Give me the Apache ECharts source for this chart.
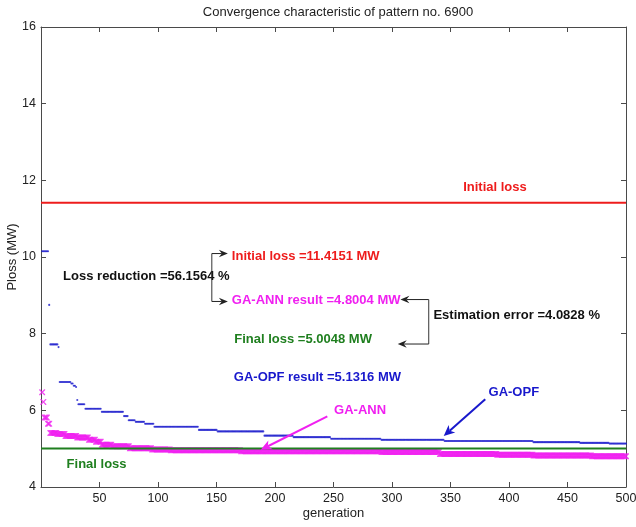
<!DOCTYPE html>
<html><head><meta charset="utf-8">
<script src="https://cdn.jsdelivr.net/npm/echarts@6/dist/echarts.min.js"></script>
<style>html,body{margin:0;padding:0;background:#fff}#c{width:636px;height:527px}</style>
</head><body><div id="c"></div>
<script>
// ---------- data ----------
const generationCount = 500;
const xTickLabels = [50, 100, 150, 200, 250, 300, 350, 400, 450, 500];
const yTickLabels = [4, 6, 8, 10, 12, 14, 16];
const initialLoss = 11.4151;
const finalLoss = 5.0048;
const gaAnnResult = 4.8004;
const gaOpfResult = 5.1316;
const lossReduction = 56.1564;
const estimationError = 4.0828;
// piecewise-constant readings: [first generation, Ploss (MW)]
const gaOpfSteps = [[1,10.15],[7,8.75],[8,7.72],[15,7.65],[16,6.74],[26,6.70],[28,6.64],[30,6.61],[31,6.27],[32,6.16],[38,6.04],[52,5.96],[71,5.85],[75,5.74],[81,5.70],[89,5.65],[97,5.57],[135,5.49],[151,5.45],[191,5.34],[216,5.30],[248,5.26],[291,5.23],[345,5.20],[421,5.17],[461,5.15],[486,gaOpfResult]];
const gaAnnSteps = [[1,6.47],[2,6.22],[3,5.81],[6,5.65],[8,5.41],[14,5.38],[21,5.33],[31,5.29],[41,5.23],[47,5.18],[52,5.10],[61,5.06],[76,5.01],[95,4.98],[111,4.96],[171,4.93],[291,4.91],[341,4.86],[390,4.84],[421,4.82],[471,gaAnnResult]];

function expandSteps(steps) {
  const out = [];
  for (let i = 0; i < steps.length; i++) {
    const start = steps[i][0];
    const end = i + 1 < steps.length ? steps[i + 1][0] - 1 : generationCount;
    for (let g = start; g <= end; g++) out.push([g, steps[i][1]]);
  }
  return out;
}
const gaOpfData = expandSteps(gaOpfSteps);
const gaAnnData = expandSteps(gaAnnSteps);

// ---------- styles ----------
const RED = '#ee1c1c', GREEN = '#1f7f1f', MAG = '#f020f0', BLUE = '#1818cc', AX = '#4a4a4a';
const FONT = 'Liberation Sans, Arial, sans-serif';
const crossPath = 'path://M0,0L1.6,0L5,3.4L8.4,0L10,0L10,1.6L6.6,5L10,8.4L10,10L8.4,10L5,6.6L1.6,10L0,10L0,8.4L3.4,5L0,1.6Z';

const chart = echarts.init(document.getElementById('c'), null, {renderer: 'canvas'});
const axisCommon = {
  splitLine: {show: false},
  axisLine: {show: true, onZero: false, lineStyle: {color: AX, width: 1}},
  axisTick: {show: true, inside: true, length: 5, lineStyle: {color: AX}},
};
chart.setOption({
  animation: false,
  backgroundColor: '#fff',
  title: {
    text: 'Convergence characteristic of pattern no. 6900',
    left: 333, top: 1, textAlign: 'center',
    textStyle: {fontFamily: FONT, fontSize: 13, fontWeight: 'normal', color: '#222'}
  },
  grid: {left: 41, right: 10, top: 27, bottom: 40, containLabel: false, outerBoundsMode: 'none'},
  xAxis: [
    Object.assign({}, axisCommon, {
      type: 'value', min: 0, max: generationCount, interval: 50, position: 'bottom',
      name: 'generation', nameLocation: 'middle', nameGap: 20, nameMoveOverlap: false,
      nameTextStyle: {fontFamily: FONT, fontSize: 13, color: '#222'},
      axisLabel: {show: true, margin: 5, color: '#222', fontFamily: FONT, fontSize: 12.5,
        formatter: v => xTickLabels.indexOf(v) >= 0 ? String(v) : ''}
    }),
    Object.assign({}, axisCommon, {
      type: 'value', min: 0, max: generationCount, interval: 50, position: 'top',
      axisLabel: {show: false}
    })
  ],
  yAxis: [
    Object.assign({}, axisCommon, {
      type: 'value', min: yTickLabels[0], max: yTickLabels[yTickLabels.length - 1], interval: 2, position: 'left',
      name: 'Ploss (MW)', nameLocation: 'middle', nameGap: 22, nameMoveOverlap: false,
      nameTextStyle: {fontFamily: FONT, fontSize: 13, color: '#222'},
      axisLabel: {show: true, margin: 5, color: '#222', fontFamily: FONT, fontSize: 12.5}
    }),
    Object.assign({}, axisCommon, {
      type: 'value', min: yTickLabels[0], max: yTickLabels[yTickLabels.length - 1], interval: 2, position: 'right',
      axisLabel: {show: false}
    })
  ],
  series: [
    {name: 'Initial loss', type: 'line', data: [[0, initialLoss], [generationCount, initialLoss]],
      symbol: 'none', lineStyle: {color: RED, width: 2}, z: 2},
    {name: 'GA-ANN', type: 'scatter', data: gaAnnData, symbol: crossPath, symbolSize: 6,
      itemStyle: {color: MAG}, z: 3, silent: true},
    {name: 'Final loss', type: 'line', data: [[0, finalLoss], [generationCount, finalLoss]],
      symbol: 'none', lineStyle: {color: GREEN, width: 2}, z: 4},
    {name: 'GA-OPF', type: 'scatter', data: gaOpfData, symbol: 'circle', symbolSize: 2.1,
      itemStyle: {color: BLUE}, z: 5, silent: true}
  ]
});

// ---------- annotations (data coordinates) ----------
const annTexts = [
  {t: 'Initial loss', at: [388, 11.82], c: RED, a: 'center'},
  {t: 'Loss reduction =' + lossReduction.toFixed(4) + ' %', at: [18.9, 9.50], c: '#111', a: 'left'},
  {t: 'Initial loss =' + initialLoss.toFixed(4) + ' MW', at: [163.1, 10.02], c: RED, a: 'left'},
  {t: 'GA-ANN result =' + gaAnnResult.toFixed(4) + ' MW', at: [163.1, 8.86], c: MAG, a: 'left'},
  {t: 'Estimation error =' + estimationError.toFixed(4) + ' %', at: [335.4, 8.48], c: '#111', a: 'left'},
  {t: 'Final loss =' + finalLoss.toFixed(4) + ' MW', at: [165.2, 7.86], c: GREEN, a: 'left'},
  {t: 'GA-OPF result =' + gaOpfResult.toFixed(4) + ' MW', at: [164.8, 6.85], c: BLUE, a: 'left'},
  {t: 'GA-ANN', at: [272.7, 6.01], c: MAG, a: 'center'},
  {t: 'GA-OPF', at: [404.1, 6.48], c: BLUE, a: 'center'},
  {t: 'Final loss', at: [47.5, 4.58], c: GREEN, a: 'center'}
];
// polylines: points in data coords, arrow at last point if arrow true
const annLines = [
  {p: [[146.0, 10.09], [146.0, 8.84]], c: '#333', w: 1, arrow: false},
  {p: [[146.0, 10.09], [159.7, 10.09]], c: '#222', w: 1, arrow: true},
  {p: [[146.0, 8.84], [159.7, 8.84]], c: '#222', w: 1, arrow: true},
  {p: [[331.4, 8.89], [307.2, 8.89]], c: '#222', w: 1, arrow: true},
  {p: [[331.4, 8.89], [331.4, 7.73]], c: '#333', w: 1, arrow: false},
  {p: [[331.4, 7.73], [304.9, 7.73]], c: '#222', w: 1, arrow: true},
  {p: [[244.7, 5.84], [187.8, 4.97]], c: MAG, w: 2, arrow: true},
  {p: [[379.7, 6.29], [344.2, 5.33]], c: BLUE, w: 2, arrow: true}
];

function px(pt) { return chart.convertToPixel({xAxisIndex: 0, yAxisIndex: 0}, pt); }
const elements = [];
annTexts.forEach(a => {
  const p = px(a.at);
  elements.push({type: 'text', x: p[0], y: p[1], z: 100,
    style: {text: a.t, fill: a.c, font: 'bold 13px ' + FONT, textAlign: a.a, textVerticalAlign: 'middle'}});
});
annLines.forEach(l => {
  const a = px(l.p[0]), b = px(l.p[1]);
  const dx = b[0] - a[0], dy = b[1] - a[1], len = Math.hypot(dx, dy);
  const ux = dx / len, uy = dy / len, nx = -uy, ny = ux;
  const L = l.w > 1 ? 11 : 9, W = l.w > 1 ? 5 : 3.8, N = 3;
  const end = l.arrow ? [b[0] - ux * (L - N), b[1] - uy * (L - N)] : b;
  elements.push({type: 'line', z: 100, shape: {x1: a[0], y1: a[1], x2: end[0], y2: end[1]},
    style: {stroke: l.c, lineWidth: l.w}});
  if (l.arrow) {
    elements.push({type: 'polygon', z: 100, shape: {points: [
      [b[0], b[1]],
      [b[0] - ux * L + nx * W, b[1] - uy * L + ny * W],
      [b[0] - ux * (L - N), b[1] - uy * (L - N)],
      [b[0] - ux * L - nx * W, b[1] - uy * L - ny * W]
    ]}, style: {fill: l.c}});
  }
});
chart.setOption({graphic: {elements: elements}});
</script>
</body></html>
